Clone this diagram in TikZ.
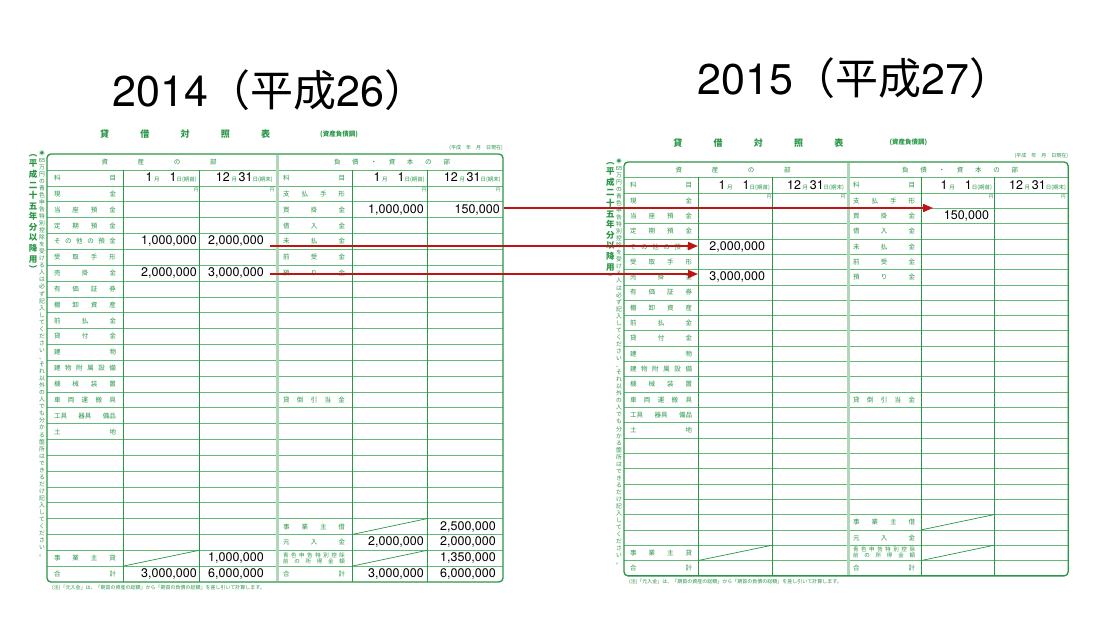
\documentclass[tikz,border=0pt]{standalone}
\usepackage{fontspec}
\setmainfont{Noto Sans CJK JP}
\newfontfamily\num{TeX Gyre Heros}
\usetikzlibrary{arrows.meta}
\definecolor{sg}{RGB}{40,150,70}
\definecolor{lg}{RGB}{100,185,120}
\definecolor{sepg}{RGB}{175,215,185}
\definecolor{ar}{RGB}{190,20,20}
\def\spx#1{#1\spy}
\def\spy#1{\ifx#1\relax\else\hfill#1\expandafter\spy\fi}
\def\vtx#1{\ifx#1\relax\else#1\par\expandafter\vtx\fi}
\newcommand\tnf{\fontsize{5.5}{6.5}\selectfont}
\newcommand\lbf{\fontsize{6.5}{7.5}\selectfont}
\newcommand\bigd[1]{{\num\fontsize{12.5}{12.5}\selectfont #1}}
\tikzset{
 hline/.style={lg,line width=0.7pt},
 vline/.style={sg,line width=0.9pt},
 sepline/.style={sepg,line width=3pt},
 boxl/.style={sg,line width=1.3pt,rounded corners=4pt},
 lab/.style={sg,inner sep=0pt,font=\lbf},
 numv/.style={inner sep=0pt,anchor=east,font=\num\fontsize{12.5}{12.5}\selectfont},
 arr/.style={ar,line width=1.8pt,-{Triangle[length=10pt,width=8pt]}},
 big/.style={font=\fontsize{43}{43}\selectfont,inner sep=0pt}
}
\newcommand\ry[1]{{32+15.84*(#1+0.5)}}
\newcommand\sheet[1]{%
 \foreach \i in {1,...,24} \draw[hline] (0,{32+15.84*\i}) -- (456,{32+15.84*\i});
 \draw[hline] (0,16)--(456,16); \draw[hline] (0,32)--(456,32);
 \foreach \x in {76,152,305,380} \draw[vline] (\x,16)--(\x,428);
 \draw[sepline] (230,1)--(230,427);
 \draw[boxl] (0,0) rectangle (456,428);
 \draw[vline,line width=0.7pt] (76,{32+15.84*24})--(152,{32+15.84*23});
 \draw[vline,line width=0.7pt] (305,{32+15.84*22})--(380,{32+15.84*21});
 \draw[vline,line width=0.7pt] (305,{32+15.84*24})--(380,{32+15.84*23});
 \node[lab] (#1h1) at (112,8) {\makebox[115pt]{\spx 資産の部\relax}};
 \node[lab] (#1h2) at (345,8) {\makebox[116pt]{\spx 負債・資本の部\relax}};
 \node[lab] (#1k1) at (38,24) {\makebox[62pt]{科\hfill 目}};
 \node[lab] (#1k2) at (267,24) {\makebox[62pt]{科\hfill 目}};
 \foreach \c in {152,380} {
  \node[inner sep=0pt,anchor=east] (#1d\c) at (\c-2,24) {\bigd{1}\,{\tnf\color{sg}月}\quad\bigd{1}{\tnf\color{sg}日(期首)}};
  \node[inner sep=0pt,anchor=east] (#1e\c) at (\c+74,24) {\bigd{12}\,{\tnf\color{sg}月}\,\bigd{31}{\tnf\color{sg}日(期末)}};
 }
 \foreach \c in {152,228,380,454} \node[sg,inner sep=0.5pt,anchor=north east,font=\fontsize{4.5}{5}\selectfont] (#1y\c) at (\c,33) {円};
 \foreach \t [count=\i from 0] in {現金,当座預金,定期預金,その他の預金,受取手形,売掛金,有価証券,棚卸資産,前払金,貸付金,建物,建物附属設備,機械装置,車両運搬具,{{工具}{器具}{備品}},土地}
  \node[lab] (#1a\i) at (38,\ry{\i}) {\makebox[62pt]{\expandafter\spx\t\relax}};
 \node[lab] (#1a23) at (38,\ry{23}) {\makebox[62pt]{\spx 事業主貸\relax}};
 \node[lab] (#1a24) at (38,\ry{24}) {\makebox[62pt]{合\hfill 計}};
 \foreach \t [count=\i from 0] in {支払手形,買掛金,借入金,未払金,前受金,預り金}
  \node[lab] (#1b\i) at (267,\ry{\i}) {\makebox[62pt]{\expandafter\spx\t\relax}};
 \node[lab] (#1b13) at (267,\ry{13}) {\makebox[62pt]{\spx 貸倒引当金\relax}};
 \node[lab] (#1b21) at (267,\ry{21}) {\makebox[62pt]{\spx 事業主借\relax}};
 \node[lab] (#1b22) at (267,\ry{22}) {\makebox[62pt]{\spx 元入金\relax}};
 \node[lab,font=\fontsize{5.5}{6}\selectfont,align=left] (#1b23) at (267,\ry{23}) {\makebox[62pt]{\spx 青色申告特別控除\relax}\\\makebox[62pt]{\spx 前の所得金額\relax}};
 \node[lab] (#1b24) at (267,\ry{24}) {\makebox[62pt]{合\hfill 計}};
 \node[sg,inner sep=0pt,font=\bfseries\fontsize{9}{9}\selectfont] (#1t) at (138,-20) {\makebox[170pt]{\spx 貸借対照表\relax}};
 \node[sg,inner sep=0pt,font=\bfseries\fontsize{6.5}{7}\selectfont] (#1t2) at (292,-20) {(資産負債調)};
 \node[sg,inner sep=0pt,anchor=east,font=\fontsize{5}{6}\selectfont] (#1t3) at (456,-6) {(平成\quad 年\quad 月\quad 日現在)};
 \node[sg,inner sep=0pt,anchor=west,font=\fontsize{5}{6}\selectfont] (#1fn) at (5,434) {(注)「元入金」は、「期首の資産の総額」から「期首の負債の総額」を差し引いて計算します。};
 \node[sg,inner sep=0pt,anchor=north,text width=10pt,align=center,font=\bfseries\fontsize{8.5}{10.6}\selectfont] (#1v1) at (-14,0) {\vtx ︵平成二十五年分以降用︶\relax};
 \node[sg,inner sep=0pt,anchor=north,text width=8pt,align=center,font=\fontsize{5.8}{7.05}\selectfont] (#1v2) at (-5,-4) {\vtx ◉{{\num 65}}万円の青色申告特別控除を受ける人は必ず記入してください、それ以外の人でも分かる箇所はできるだけ記入してください。\relax};
}
\begin{document}
\begin{tikzpicture}[x=1pt,y=-1pt]
\useasboundingbox[fill=white] (0,0) rectangle (1098,624);
\node[big] (ttl1) at (270,90) {{\num 2014}（平成{\num 26}）};
\node[big] (ttl2) at (855,78) {{\num 2015}（平成{\num 27}）};
\begin{scope}[shift={(47,154)}]
 \sheet{L}
 \node[numv] (v1) at (377,\ry{1}) {1,000,000};
 \node[numv] (v2) at (453,\ry{1}) {150,000};
 \node[numv] (v3) at (150,\ry{3}) {1,000,000};
 \node[numv] (v4) at (217,\ry{3}) {2,000,000};
 \node[numv] (v5) at (150,\ry{5}) {2,000,000};
 \node[numv] (v6) at (217,\ry{5}) {3,000,000};
 \node[numv] (v7) at (449,\ry{21}) {2,500,000};
 \node[numv] (v8) at (377,\ry{22}) {2,000,000};
 \node[numv] (v9) at (449,\ry{22}) {2,000,000};
 \node[numv] (v10) at (217,\ry{23}) {1,000,000};
 \node[numv] (v11) at (449,\ry{23}) {1,350,000};
 \node[numv] (v12) at (150,\ry{24}) {3,000,000};
 \node[numv] (v13) at (217,\ry{24}) {6,000,000};
 \node[numv] (v14) at (377,\ry{24}) {3,000,000};
 \node[numv] (v15) at (449,\ry{24}) {6,000,000};
\end{scope}
\begin{scope}[shift={(624,162)},xscale=0.974,yscale=0.967]
 \sheet{R}
 \node[numv] (w1) at (375,\ry{1}) {150,000};
 \node[numv] (w2) at (145,\ry{3}) {2,000,000};
 \node[numv] (w3) at (145,\ry{5}) {3,000,000};
\end{scope}
\coordinate (a1s) at (504,208); \coordinate (a1e) at (933,208);
\coordinate (a2s) at (270,246); \coordinate (a2e) at (698,246);
\coordinate (a3s) at (270,274); \coordinate (a3e) at (698,274);
\draw[arr] (a1s) -- (a1e);
\draw[arr] (a2s) -- (a2e);
\draw[arr] (a3s) -- (a3e);
\end{tikzpicture}
\end{document}
